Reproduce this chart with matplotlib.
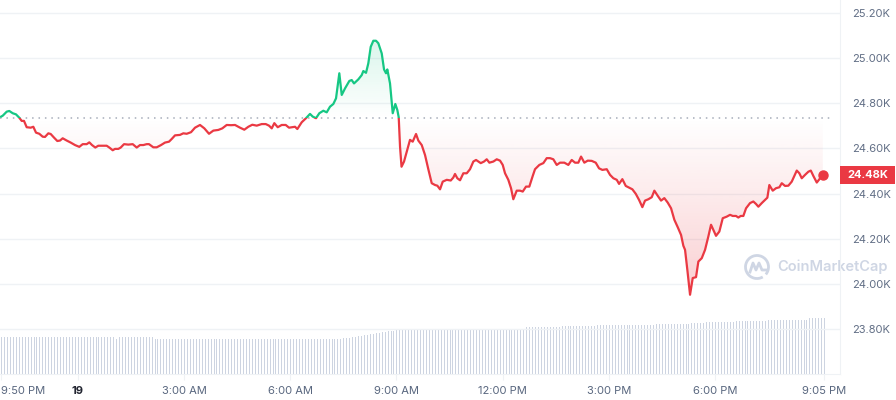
import numpy as np
import matplotlib
matplotlib.use('Agg')
import matplotlib.pyplot as plt
from matplotlib.path import Path
from matplotlib.patches import Rectangle, Arc
from matplotlib.lines import Line2D
import matplotlib.transforms as mtransforms

plt.rcParams['font.family'] = ['Inter', 'DejaVu Sans']

# price path, hours relative to midnight of the 19th, price in thousands USD
hours = [
    -2.167, -2.121, -2.008, -1.935, -1.839, -1.746, -1.653, -1.585, -1.520, -1.444,
    -1.331, -1.257, -1.181, -1.088, -0.992, -0.927, -0.833, -0.766, -0.672, -0.579,
    -0.503, -0.427, -0.314, -0.201, -0.079, 0.042, 0.138, 0.251, 0.325, 0.401,
    0.494, 0.579, 0.720, 0.816, 0.890, 0.986, 1.051, 1.144, 1.212, 1.305,
    1.427, 1.551, 1.664, 1.757, 1.850, 1.946, 2.011, 2.133, 2.229, 2.350,
    2.463, 2.576, 2.653, 2.746, 2.887, 2.980, 3.076, 3.198, 3.311, 3.452,
    3.574, 3.706, 3.828, 3.969, 4.082, 4.206, 4.328, 4.441, 4.582, 4.703,
    4.816, 4.929, 5.054, 5.195, 5.308, 5.401, 5.478, 5.551, 5.647, 5.760,
    5.873, 5.966, 6.059, 6.136, 6.201, 6.325, 6.446, 6.559, 6.636, 6.729,
    6.822, 6.935, 7.031, 7.124, 7.218, 7.294, 7.387, 7.455, 7.548, 7.670,
    7.737, 7.802, 7.924, 8.020, 8.065, 8.141, 8.206, 8.274, 8.348, 8.424,
    8.489, 8.585, 8.650, 8.706, 8.743, 8.819, 8.896, 8.969, 9.026, 9.065,
    9.102, 9.144, 9.215, 9.291, 9.384, 9.460, 9.554, 9.619, 9.715, 9.808,
    9.901, 9.997, 10.091, 10.156, 10.232, 10.308, 10.421, 10.534, 10.607, 10.655,
    10.720, 10.797, 10.890, 10.986, 11.079, 11.173, 11.249, 11.382, 11.475, 11.551,
    11.625, 11.738, 11.834, 11.927, 12.003, 12.068, 12.161, 12.237, 12.302, 12.398,
    12.492, 12.568, 12.661, 12.754, 12.850, 12.915, 13.037, 13.150, 13.246, 13.339,
    13.432, 13.528, 13.621, 13.743, 13.856, 13.952, 14.045, 14.139, 14.215, 14.308,
    14.404, 14.517, 14.630, 14.723, 14.817, 14.941, 15.034, 15.128, 15.224, 15.289,
    15.382, 15.478, 15.599, 15.665, 15.761, 15.854, 15.947, 16.023, 16.116, 16.212,
    16.286, 16.382, 16.475, 16.568, 16.664, 16.758, 16.851, 16.947, 17.040, 17.105,
    17.153, 17.218, 17.294, 17.370, 17.463, 17.529, 17.625, 17.718, 17.811, 17.887,
    17.952, 18.028, 18.122, 18.218, 18.331, 18.424, 18.500, 18.593, 18.658, 18.726,
    18.800, 18.876, 18.989, 19.082, 19.158, 19.224, 19.320, 19.413, 19.478, 19.534,
    19.630, 19.723, 19.817, 19.885, 19.978, 20.071, 20.167, 20.232, 20.309, 20.382,
    20.450, 20.543, 20.637, 20.705, 20.778, 20.874, 20.948, 21.044]

prices = [
    24.741, 24.745, 24.763, 24.766, 24.756, 24.751, 24.736, 24.722, 24.722, 24.694,
    24.692, 24.696, 24.670, 24.665, 24.652, 24.651, 24.667, 24.664, 24.648, 24.633,
    24.635, 24.645, 24.635, 24.626, 24.615, 24.607, 24.619, 24.619, 24.627, 24.615,
    24.604, 24.612, 24.612, 24.612, 24.604, 24.592, 24.598, 24.598, 24.604, 24.619,
    24.617, 24.619, 24.604, 24.615, 24.615, 24.619, 24.619, 24.605, 24.605, 24.615,
    24.626, 24.630, 24.642, 24.658, 24.660, 24.667, 24.665, 24.672, 24.692, 24.704,
    24.689, 24.665, 24.679, 24.682, 24.689, 24.704, 24.703, 24.704, 24.692, 24.683,
    24.696, 24.705, 24.701, 24.708, 24.708, 24.701, 24.689, 24.712, 24.694, 24.704,
    24.704, 24.692, 24.694, 24.696, 24.686, 24.716, 24.734, 24.753, 24.741, 24.734,
    24.756, 24.767, 24.760, 24.785, 24.797, 24.822, 24.933, 24.837, 24.866, 24.899,
    24.903, 24.888, 24.906, 24.925, 24.943, 24.935, 24.977, 25.050, 25.077, 25.077,
    25.066, 25.021, 24.950, 24.933, 24.950, 24.888, 24.756, 24.797, 24.770, 24.738,
    24.608, 24.519, 24.542, 24.586, 24.638, 24.630, 24.664, 24.635, 24.615, 24.571,
    24.508, 24.446, 24.438, 24.435, 24.419, 24.453, 24.461, 24.458, 24.471, 24.487,
    24.468, 24.459, 24.490, 24.490, 24.508, 24.542, 24.549, 24.535, 24.542, 24.552,
    24.537, 24.542, 24.552, 24.546, 24.527, 24.490, 24.461, 24.424, 24.375, 24.413,
    24.413, 24.409, 24.431, 24.431, 24.478, 24.508, 24.527, 24.535, 24.557, 24.557,
    24.552, 24.527, 24.537, 24.537, 24.527, 24.549, 24.537, 24.537, 24.564, 24.537,
    24.546, 24.545, 24.537, 24.512, 24.505, 24.508, 24.483, 24.468, 24.461, 24.443,
    24.464, 24.434, 24.424, 24.419, 24.399, 24.372, 24.340, 24.369, 24.375, 24.384,
    24.413, 24.390, 24.369, 24.380, 24.360, 24.335, 24.284, 24.251, 24.217, 24.169,
    24.151, 24.062, 23.952, 24.026, 24.030, 24.099, 24.114, 24.151, 24.210, 24.262,
    24.239, 24.213, 24.232, 24.291, 24.298, 24.306, 24.301, 24.301, 24.294, 24.301,
    24.301, 24.335, 24.358, 24.365, 24.354, 24.342, 24.358, 24.372, 24.382, 24.438,
    24.413, 24.424, 24.428, 24.446, 24.434, 24.435, 24.453, 24.475, 24.502, 24.490,
    24.468, 24.483, 24.497, 24.502, 24.478, 24.449, 24.464, 24.483]

open_price = 24.735   # dotted reference line

# 24h volume (billions), one bar per 5 minutes from 9:50 PM
volume = [
    27.4, 27.4, 27.4, 27.4, 27.4, 27.4, 27.4, 27.4, 27.4, 27.4, 27.4, 27.4, 27.4, 27.4, 27.4, 27.4, 27.4, 27.4, 27.4, 27.4,
    27.4, 27.4, 27.4, 27.4, 27.4, 27.4, 27.4, 27.4, 27.4, 27.4, 27.4, 27.4, 27.4, 27.4, 27.4, 27.4, 27.4, 27.4, 27.4, 26.6,
    27.4, 27.4, 27.4, 27.4, 27.4, 27.4, 27.4, 27.4, 27.4, 27.4, 27.4, 27.4, 26.6, 26.6, 26.6, 26.6, 26.6, 26.6, 26.6, 26.6,
    26.6, 26.6, 26.6, 26.6, 26.6, 26.6, 26.6, 26.6, 26.6, 26.6, 26.6, 26.6, 26.6, 26.6, 26.6, 26.6, 26.6, 26.6, 26.6, 26.6,
    26.6, 26.6, 26.6, 26.6, 26.6, 26.6, 26.6, 26.6, 26.6, 26.6, 26.6, 26.6, 26.6, 26.6, 26.6, 26.6, 26.6, 26.6, 26.6, 26.6,
    25.9, 26.6, 26.6, 26.6, 26.6, 26.6, 26.6, 26.6, 26.6, 26.6, 26.6, 26.6, 26.6, 26.6, 26.6, 26.6, 26.8, 27.0, 27.3, 27.6,
    27.9, 28.2, 28.6, 29.0, 29.4, 29.8, 30.2, 30.6, 31.0, 31.3, 31.7, 32.0, 32.3, 32.6, 32.9, 33.1, 33.3, 33.5, 33.7, 33.8,
    33.9, 34.0, 34.0, 34.0, 34.0, 34.0, 34.0, 34.0, 34.0, 34.0, 34.0, 34.0, 34.0, 34.0, 34.0, 34.0, 34.0, 34.0, 34.0, 34.0,
    34.0, 34.0, 34.0, 34.0, 34.0, 34.0, 34.0, 34.0, 34.0, 34.0, 34.0, 34.0, 34.0, 34.0, 34.0, 34.0, 34.0, 34.0, 34.9, 34.9,
    34.9, 34.9, 34.9, 34.9, 34.9, 34.9, 34.9, 34.9, 34.9, 34.9, 36.0, 36.0, 36.0, 36.0, 36.0, 36.0, 36.0, 36.0, 36.0, 36.0,
    36.0, 36.0, 36.8, 36.8, 36.8, 36.8, 36.8, 36.8, 36.8, 36.8, 36.8, 36.8, 36.8, 36.8, 36.8, 36.8, 36.8, 36.8, 36.8, 36.8,
    36.8, 36.8, 37.5, 37.5, 37.5, 37.5, 37.5, 37.5, 37.5, 37.5, 37.5, 37.5, 37.5, 37.5, 38.5, 38.5, 38.5, 38.5, 38.5, 39.2,
    39.2, 39.2, 39.2, 39.2, 39.2, 39.2, 39.2, 39.2, 39.2, 40.0, 40.0, 40.0, 40.0, 40.0, 40.0, 40.0, 40.0, 40.0, 40.0, 40.0,
    40.5, 40.5, 40.5, 40.5, 40.5, 40.5, 40.5, 40.5, 40.5, 40.5, 40.5, 40.5, 40.5, 40.5, 41.8, 41.8, 41.8, 41.8, 41.8, 41.8]

tick_hours = [-2.167, 0, 3, 6, 9, 12, 15, 18, 21.083]
tick_labels = ['9:50 PM', '19', '3:00 AM', '6:00 AM', '9:00 AM', '12:00 PM', '3:00 PM', '6:00 PM', '9:05 PM']
ytick_vals = [23.80, 24.00, 24.20, 24.40, 24.60, 24.80, 25.00, 25.20]

GREEN = '#16c784'
RED = '#ea3943'
GRID = '#eff2f5'
TXT = '#616e85'

h = np.array(hours)
p = np.array(prices)
vol_hours = -2.167 + np.arange(len(volume)) * 5 / 60

fig = plt.figure(figsize=(8.96, 4.0), dpi=100)
pos = [0, 26 / 400, 840 / 896, 374 / 400]
xlim = (-2.198, 21.53)
ylim = (23.601, 25.2575)

# volume bars sit in their own axes behind the price axes
vax = fig.add_axes(pos, zorder=0)
vax.vlines(vol_hours, 0, volume, color='#cdd4e1', lw=0.5, antialiased=False)
vax.set_xlim(xlim)
vax.set_ylim(0, 280.5)
vax.axis('off')

ax = fig.add_axes(pos, zorder=1)
ax.patch.set_visible(False)
ax.set_xlim(xlim)
ax.set_ylim(ylim)

for v in ytick_vals:
    ax.axhline(v, color=GRID, lw=1, zorder=0)

ax.axhline(open_price, xmin=0, xmax=0.992, color='#a6acb9', lw=1.1,
           linestyle=(0, (1, 3.2)), zorder=2)


def gradient_fill(where, color, y_far, a_max):
    poly = ax.fill_between(h, p, open_price, where=where, interpolate=True,
                           color='none', linewidth=0)
    path = Path.make_compound_path(*poly.get_paths())
    rgb = matplotlib.colors.to_rgb(color)
    n = 200
    img = np.zeros((n, 1, 4))
    img[:, 0, :3] = rgb
    lo, hi = sorted([open_price, y_far])
    a = np.linspace(0, 1, n)
    if y_far > open_price:
        img[:, 0, 3] = a * a_max
    else:
        img[:, 0, 3] = (1 - a) * a_max
    im = ax.imshow(img, extent=[h[0], h[-1], lo, hi], origin='lower',
                   aspect='auto', zorder=1, interpolation='bilinear')
    im.set_clip_path(path, ax.transData)
    ax.set_xlim(xlim)
    ax.set_ylim(ylim)


gradient_fill(p >= open_price, GREEN, p.max(), 0.16)
gradient_fill(p <= open_price, RED, p.min(), 0.24)

green_line, = ax.plot(h, p, color=GREEN, lw=1.6, zorder=3, solid_joinstyle='round')
red_line, = ax.plot(h, p, color=RED, lw=1.6, zorder=3, solid_joinstyle='round')
green_line.set_clip_path(Rectangle((xlim[0], open_price), xlim[1] - xlim[0], ylim[1] - open_price,
                                   transform=ax.transData))
red_line.set_clip_path(Rectangle((xlim[0], ylim[0]), xlim[1] - xlim[0], open_price - ylim[0],
                                 transform=ax.transData))
ax.plot(h[-1], p[-1], 'o', color=RED, ms=6.5, zorder=4)

# axes styling
for s in ['top', 'left']:
    ax.spines[s].set_visible(False)
ax.spines['right'].set_color(GRID)
ax.spines['bottom'].set_color(GRID)
ax.yaxis.tick_right()
ax.set_yticks(ytick_vals)
ax.set_yticklabels([f'{v:.2f}K' for v in ytick_vals])
ax.tick_params(axis='y', length=0, pad=9, labelsize=8, labelcolor=TXT)
ax.set_xticks(tick_hours)
ax.set_xticklabels(tick_labels)
ax.tick_params(axis='x', length=4, color=GRID, pad=5, labelsize=8, labelcolor='#58667e')
xl = ax.get_xticklabels()
xl[0].set_ha('left')
xl[1].set_fontweight('bold')
xl[1].set_color('#222531')

# current price tag
blend = mtransforms.blended_transform_factory(ax.transAxes, ax.transData)
ax.add_patch(Rectangle((1.0, p[-1] - 0.0398), 55 / 840, 0.0796, transform=blend,
                       facecolor=RED, edgecolor='none', clip_on=False, zorder=5))
ax.text(1.0 + 27.5 / 840, p[-1], f'{p[-1]:.2f}K', transform=blend, ha='center', va='center',
        color='white', fontsize=8, fontweight='bold', zorder=6, clip_on=False)

# watermark
fig.text(777 / 896, 1 - 267 / 400, 'CoinMarketCap', ha='left', va='center',
         fontsize=10.5, fontweight='semibold', color='#cfd6e4', zorder=0)
logo = Arc((757, 133), 23, 23, theta1=-40, theta2=300, transform=None,
           color='#cfd6e4', lw=2)
fig.add_artist(logo)
fig.add_artist(Line2D([750, 753, 756, 759, 762, 766], [128, 137, 130, 137, 130, 130],
                      transform=None, color='#cfd6e4', lw=2, solid_joinstyle='round'))

fig.savefig('out.png', dpi=100)
